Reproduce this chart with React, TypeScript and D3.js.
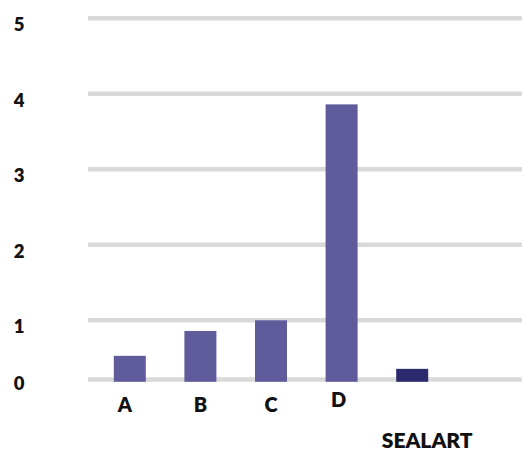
import React from "react";
import * as d3 from "d3";

const categories = ["A", "B", "C", "D", "SEALART"];
const values = [0.4, 0.82, 1.0, 3.86, 0.18];
const yTicks = [0, 1, 2, 3, 4, 5];

const W = 522;
const H = 452;

export default function App() {
  // polylinear scale: the reference's 0 line sits closer to 1 than the others
  const y = d3.scaleLinear().domain([0, 1, 5]).range([379.5, 320.3, 18.3]);
  const x = d3
    .scaleBand<string>()
    .domain(categories)
    .range([113.8, 428.2])
    .paddingInner(1 - 32 / 70.6)
    .paddingOuter(0);

  const font = "Lato, 'DejaVu Sans', sans-serif";
  const base = y(0);

  return (
    <svg
      width={W}
      height={H}
      style={{ position: "absolute", left: 0, top: 0, background: "#fff" }}
    >
      {yTicks.map((t) => (
        <g key={t}>
          <line
            x1={88}
            x2={W}
            y1={y(t)}
            y2={y(t)}
            stroke="#d9d9d9"
            strokeWidth={4.6}
          />
          <text
            x={19}
            y={y(t) + (t === 0 ? 3 : 6)}
            textAnchor="middle"
            dominantBaseline="central"
            fontFamily={font}
            fontWeight={800}
            fontSize={18.5}
            fill="#111"
          >
            {t}
          </text>
        </g>
      ))}
      {categories.map((c, i) => {
        const highlight = c === "SEALART";
        const top = y(values[i]);
        return (
          <rect
            key={c}
            x={x(c)}
            y={top}
            width={x.bandwidth()}
            height={base + 2.3 - top}
            fill={highlight ? "#2c2a6c" : "#605b9b"}
          />
        );
      })}
      {categories.map((c) => {
        const highlight = c === "SEALART";
        const cx = (x(c) as number) + x.bandwidth() / 2;
        return (
          <text
            key={c}
            x={highlight ? cx + 15 : c === "A" ? cx - 5 : c === "D" ? cx - 3 : cx}
            y={highlight ? 448.3 : c === "D" ? 407 : 412}
            textAnchor="middle"
            fontFamily={font}
            fontWeight={800}
            fontSize={highlight ? 21 : 20}
            fill="#111"
          >
            {c}
          </text>
        );
      })}
    </svg>
  );
}
